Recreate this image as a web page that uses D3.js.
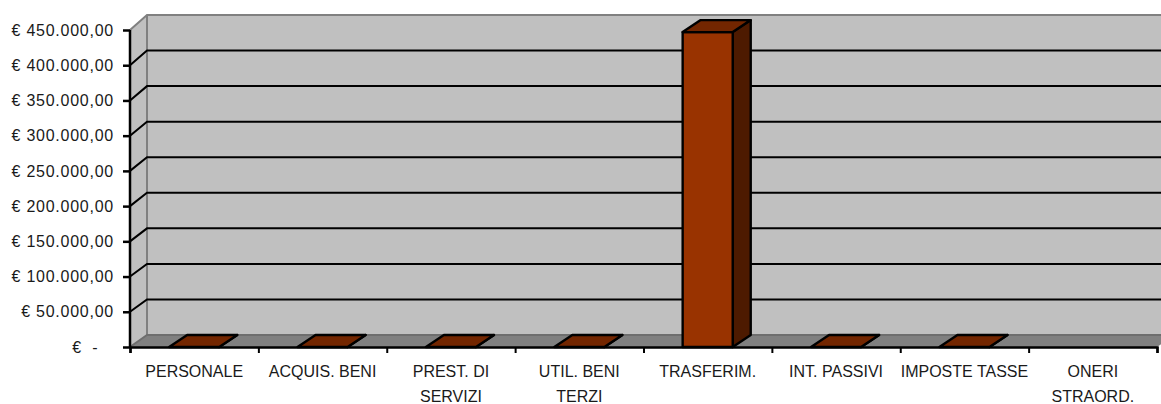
<!DOCTYPE html>
<html>
<head>
<meta charset="utf-8">
<script src="https://cdn.jsdelivr.net/npm/d3@7"></script>
<style>
  html, body { margin: 0; padding: 0; background: #fff; overflow: hidden; }
  text { font-family: "Liberation Sans", Arial, sans-serif; font-size: 16px; fill: #1a1a1a; letter-spacing: .75px; }
  text.cat { letter-spacing: 0; }
</style>
</head>
<body>
<svg id="chart" width="1161" height="404"></svg>
<script>
// values (null = no bar drawn)
var categories = ["PERSONALE", "ACQUIS. BENI", "PREST. DI\nSERVIZI", "UTIL. BENI\nTERZI", "TRASFERIM.", "INT. PASSIVI", "IMPOSTE TASSE", "ONERI\nSTRAORD."];
var values = [0, 0, 0, 0, 447000, 0, 0, null];
var valueTicks = [0, 50000, 100000, 150000, 200000, 250000, 300000, 350000, 400000, 450000];

var svg = d3.select("#chart");

// depth of the 3d box and of the bars
var wallDx = 17, wallDyTop = 15, wallDyBottom = 12;
var barDx = 18, barDy = 12;

var left = 130, right = 1157, bottom = 347, top_ = 30;

var x = d3.scaleBand().domain(categories).range([left, right]).paddingInner(0.61).paddingOuter(0.305);
var xEdges = d3.scaleLinear().domain([0, categories.length]).range([left, right]);
var y = d3.scaleLinear().domain([0, 450000]).range([bottom, top_]);
// same values on the back wall
var yBack = d3.scaleLinear().domain([0, 450000]).range([bottom - wallDyBottom, top_ - wallDyTop]);

var euro = d3.formatLocale({ decimal: ",", thousands: ".", grouping: [3], currency: ["€ ", ""] }).format("$,.2f");

function poly(pts) { return pts.map(function (p) { return p.join(","); }).join(" "); }

// back wall + side wall
svg.append("polygon")
  .attr("points", poly([[left, y(0)], [left + wallDx, yBack(0)], [right + wallDx, yBack(0)], [right + wallDx, yBack(450000)], [left + wallDx, yBack(450000)], [left, y(450000)]]))
  .attr("fill", "#c0c0c0");

// floor
svg.append("polygon")
  .attr("points", poly([[left, y(0)], [left + wallDx, yBack(0)], [right + wallDx, yBack(0)], [right, y(0)]]))
  .attr("fill", "#808080");

// gray frame of the walls
svg.append("polyline")
  .attr("points", poly([[left, y(450000)], [left + wallDx, yBack(450000)], [right + wallDx, yBack(450000)]]))
  .attr("fill", "none").attr("stroke", "#808080").attr("stroke-width", 2);
svg.append("line")
  .attr("x1", left + wallDx).attr("x2", left + wallDx).attr("y1", yBack(450000)).attr("y2", yBack(0))
  .attr("stroke", "#808080").attr("stroke-width", 2);
svg.append("polyline")
  .attr("points", poly([[left, y(0)], [left + wallDx, yBack(0)], [right + wallDx, yBack(0)]]))
  .attr("fill", "none").attr("stroke", "#6e6e6e").attr("stroke-width", 2);

// gridlines, running along side wall and back wall
svg.append("g").selectAll("polyline")
  .data(valueTicks.filter(function (d) { return d > 0 && d < 450000; }))
  .join("polyline")
  .attr("points", function (d) { return poly([[left, y(d)], [left + wallDx, yBack(d)], [right + wallDx, yBack(d)]]); })
  .attr("fill", "none").attr("stroke", "#000").attr("stroke-width", 2);

// bars
var bars = svg.append("g").selectAll("g")
  .data(categories.map(function (c, i) { return { cat: c, val: values[i] }; }).filter(function (d) { return d.val !== null; }))
  .join("g")
  .attr("stroke", "#000").attr("stroke-width", 2.4).attr("stroke-linejoin", "round");

bars.append("polygon") // side
  .attr("points", function (d) {
    var r = x(d.cat) + x.bandwidth();
    return poly([[r, y(0)], [r + barDx, y(0) - barDy], [r + barDx, y(d.val) - barDy], [r, y(d.val)]]);
  })
  .attr("fill", "#4d1a00");
bars.append("rect") // front
  .attr("x", function (d) { return x(d.cat); })
  .attr("y", function (d) { return y(d.val); })
  .attr("width", x.bandwidth())
  .attr("height", function (d) { return y(0) - y(d.val); })
  .attr("fill", "#993300");
bars.append("polygon") // top
  .attr("points", function (d) {
    var l = x(d.cat), r = l + x.bandwidth(), t = y(d.val);
    return poly([[l, t], [l + barDx, t - barDy], [r + barDx, t - barDy], [r, t]]);
  })
  .attr("fill", "#732600");

// y axis
var yAxis = svg.append("g")
  .attr("transform", "translate(" + left + ",0)")
  .call(d3.axisLeft(y).tickValues(valueTicks).tickSize(7).tickPadding(9)
    .tickFormat(function (d) { return d === 0 ? "€\u00a0\u00a0-\u00a0\u00a0\u00a0" : euro(d); }));
yAxis.selectAll("path").attr("d", "M0," + y(450000) + "V" + y(0)).attr("stroke", "#000").attr("stroke-width", 2.5);
yAxis.selectAll("line").attr("stroke", "#000").attr("stroke-width", 2.5);
yAxis.attr("font-size", null).attr("font-family", null);

// x axis: ticks sit between the categories, labels are written below
var xAxis = svg.append("g")
  .attr("transform", "translate(0," + bottom + ")")
  .call(d3.axisBottom(xEdges).tickValues(d3.range(categories.length + 1)).tickSize(6).tickFormat(""));
xAxis.selectAll("path").attr("stroke", "#000").attr("stroke-width", 2.5);
xAxis.selectAll("line").attr("stroke", "#000").attr("stroke-width", 2);
xAxis.attr("font-size", null).attr("font-family", null);

var labels = svg.append("g").selectAll("text")
  .data(categories)
  .join("text")
  .attr("class", "cat")
  .attr("text-anchor", "middle")
  .attr("transform", function (d) { return "translate(" + (x(d) + x.bandwidth() / 2) + ",377)"; });
labels.selectAll("tspan")
  .data(function (d) { return d.split("\n"); })
  .join("tspan")
  .attr("x", 0)
  .attr("y", function (d, i) { return i * 25; })
  .text(function (d) { return d; });
</script>
</body>
</html>
